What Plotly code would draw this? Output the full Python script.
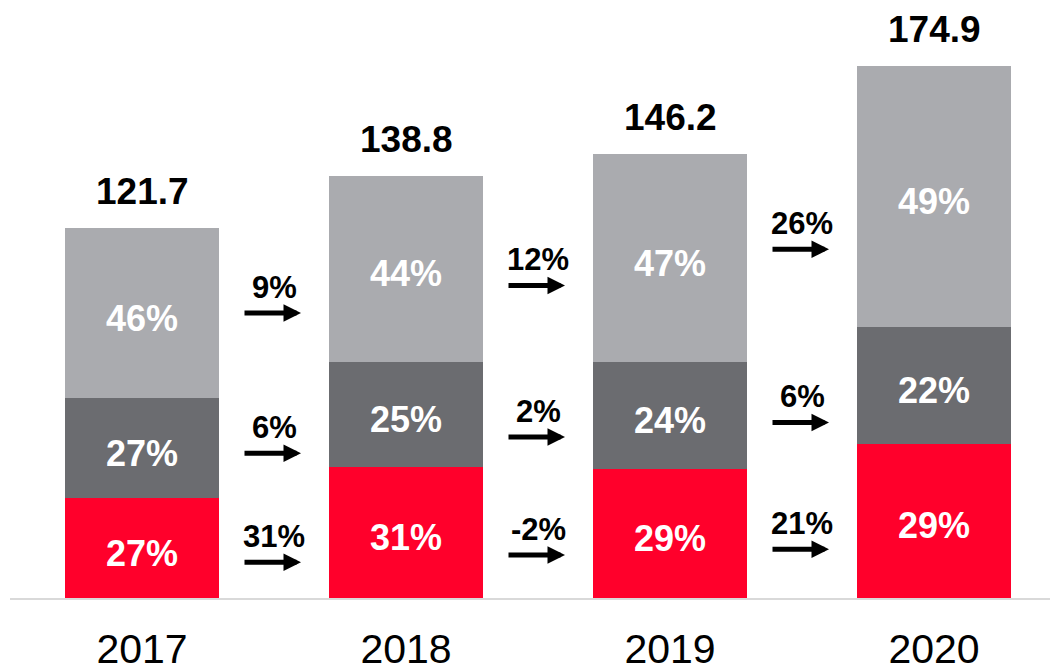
import plotly.graph_objects as go

years = ["2017", "2018", "2019", "2020"]
totals = [121.7, 138.8, 146.2, 174.9]
share_red = [27, 31, 29, 29]
share_dark = [27, 25, 24, 22]
share_light = [46, 44, 47, 49]
growth_red = ["31%", "-2%", "21%"]
growth_dark = ["6%", "2%", "6%"]
growth_light = ["9%", "12%", "26%"]

RED = "#FF002B"
DARK = "#6B6C70"
LIGHT = "#AAABAF"
FONT = "Liberation Sans, Arial, sans-serif"

xs = list(range(len(years)))
shares = [share_red, share_dark, share_light]
colors = [RED, DARK, LIGHT]

fig = go.Figure()
seg_vals = []
for sh, col in zip(shares, colors):
    vals = [t * p / 100 for t, p in zip(totals, sh)]
    seg_vals.append(vals)
    fig.add_trace(go.Bar(
        x=xs, y=vals, width=0.587, marker=dict(color=col, line=dict(width=0)),
        hoverinfo="skip", showlegend=False,
    ))

# segment mid points
mids = []
base = [0.0] * len(years)
for vals in seg_vals:
    mids.append([b + v / 2 for b, v in zip(base, vals)])
    base = [b + v for b, v in zip(base, vals)]

annotations = []
for s, sh in enumerate(shares):
    for i, p in enumerate(sh):
        annotations.append(dict(
            x=xs[i], y=mids[s][i], text=f"{p}%", showarrow=False, yanchor="middle",
            yshift=-5, font=dict(family=FONT, size=36, color="white", weight="bold"),
        ))

for i, t in enumerate(totals):
    annotations.append(dict(
        x=xs[i], y=t, text=f"{t:.1f}", showarrow=False, yanchor="bottom", yshift=14,
        font=dict(family=FONT, size=37, color="black", weight="bold"),
    ))

growths = [growth_red, growth_dark, growth_light]
for s, g in enumerate(growths):
    for i, lab in enumerate(g):
        ymid = (mids[s][i] + mids[s][i + 1]) / 2
        xm = xs[i] + 0.5
        annotations.append(dict(
            x=xm, y=ymid, text=lab, showarrow=False, yanchor="middle", yshift=4,
            font=dict(family=FONT, size=31, color="black", weight="bold"),
        ))
        annotations.append(dict(
            x=xm, y=ymid, text="", showarrow=True, ax=-58, ay=0, xshift=27, yshift=-22,
            arrowhead=2, arrowsize=0.7, arrowwidth=5, arrowcolor="black",
        ))

fig.update_layout(
    width=1050, height=658,
    margin=dict(l=2, r=0, t=0, b=68),
    paper_bgcolor="white", plot_bgcolor="white",
    barmode="stack", bargap=0,
    annotations=annotations,
    xaxis=dict(range=[-0.5, 3.4697], tickvals=xs, ticktext=years, automargin=False,
               showgrid=False, zeroline=False, showline=True, linecolor="#D9D9D9",
               linewidth=2, ticks="", ticklabelstandoff=14,
               tickfont=dict(family=FONT, size=41, color="black")),
    yaxis=dict(range=[0, 590 / 3.04], visible=False, showgrid=False, zeroline=False,
               automargin=False),
)

fig.write_html("out.html")
